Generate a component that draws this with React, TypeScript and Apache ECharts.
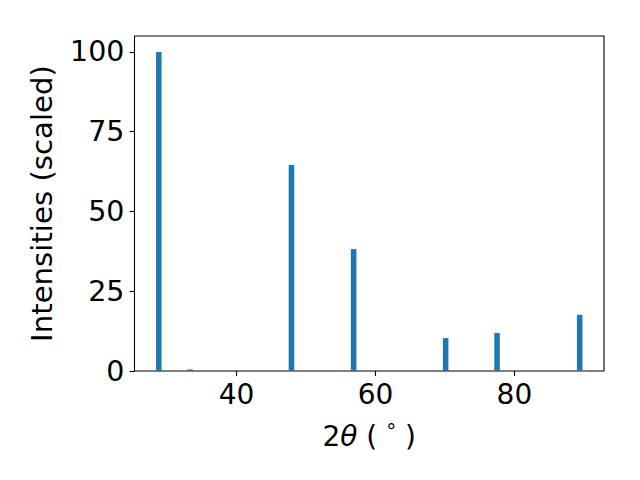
import React, { useEffect, useRef } from "react";
import * as echarts from "echarts";

const twoTheta = [28.8, 33.3, 47.9, 56.85, 70.1, 77.5, 89.4];
const intensities = [100, 0.5, 64.6, 38.2, 10.3, 11.9, 17.6];
const xTicks = [40, 60, 80];
const yTicks = [0, 25, 50, 75, 100];
const barWidthUnits = 0.8;

export default function App() {
  const ref = useRef<HTMLDivElement>(null);
  useEffect(() => {
    if (!ref.current) return;
    const chart = echarts.init(ref.current, null, { renderer: "svg" });
    const font = "DejaVu Sans";
    const data = twoTheta.map((x, i) => [x, intensities[i]]);
    chart.setOption({
      animation: false,
      grid: {
        left: 134.5,
        right: 36,
        top: 36,
        bottom: 109,
        show: true,
        borderColor: "#000",
        borderWidth: 1.1,
        backgroundColor: "transparent",
      },
      xAxis: {
        type: "value",
        min: 25.3,
        max: 92.9,
        splitLine: { show: false },
        axisLine: { show: false },
        axisTick: { show: true, length: 5, inside: false, lineStyle: { color: "#000", width: 1.1 }, customValues: xTicks },
        axisLabel: { color: "#000", fontFamily: font, fontSize: 28, margin: 9, customValues: xTicks },
        name: "2{it|θ} ( {sup|°} )",
        nameLocation: "middle",
        nameGap: 50,
        nameTextStyle: {
          color: "#000",
          fontFamily: font,
          fontSize: 28,
          rich: {
            it: { fontStyle: "italic", fontFamily: font, fontSize: 28, color: "#000" },
            sup: { fontFamily: font, fontSize: 20, color: "#000", verticalAlign: "top", padding: [0, 0, 10, 0] },
          },
        },
      },
      yAxis: {
        type: "value",
        min: 0,
        max: 105,
        splitLine: { show: false },
        axisLine: { show: false },
        axisTick: { show: true, length: 5, inside: false, lineStyle: { color: "#000", width: 1.1 }, customValues: yTicks },
        axisLabel: { color: "#000", fontFamily: font, fontSize: 28.5, margin: 10, customValues: yTicks },
        name: "Intensities (scaled)",
        nameLocation: "middle",
        nameGap: 78,
        nameTextStyle: { color: "#000", fontFamily: font, fontSize: 29.2 },
      },
      series: [
        {
          type: "custom",
          data,
          renderItem: (params: any, api: any) => {
            const x = api.value(0);
            const y = api.value(1);
            const p0 = api.coord([x - barWidthUnits / 2, y]);
            const p1 = api.coord([x + barWidthUnits / 2, 0]);
            return {
              type: "rect",
              shape: { x: p0[0], y: p0[1], width: p1[0] - p0[0], height: p1[1] - p0[1] },
              style: { fill: "#1f77b4" },
            };
          },
        },
      ],
    });
    return () => chart.dispose();
  }, []);
  return <div ref={ref} style={{ width: 640, height: 480, position: "absolute", left: 0, top: 0 }} />;
}
